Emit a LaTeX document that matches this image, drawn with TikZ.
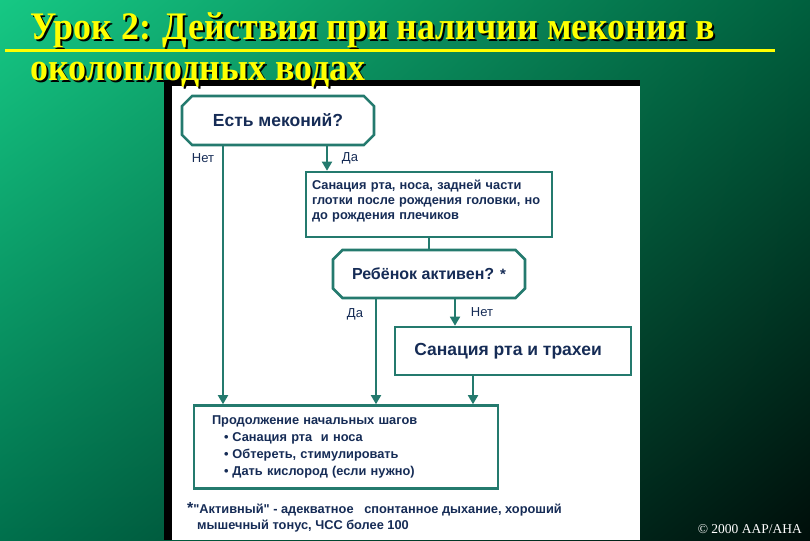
\documentclass[tikz,border=0pt]{standalone}
\usepackage{graphicx}
\usepackage{fontspec}
\setmainfont{Liberation Sans}[Ligatures=TeXOff]
\newfontfamily\titlefont{Liberation Serif}
\usetikzlibrary{shapes.misc,shadings,arrows.meta,positioning}

\definecolor{bgUL}{RGB}{22,200,132}
\definecolor{bgUR}{RGB}{0,96,62}
\definecolor{bgLL}{RGB}{0,112,76}
\definecolor{bgLR}{RGB}{0,14,10}
\definecolor{flowline}{RGB}{36,122,110}
\definecolor{flowtext}{RGB}{22,44,86}
\definecolor{titleyellow}{RGB}{255,255,0}

% narrow title lines
\newcommand{\titleline}[1]{\scalebox{0.92}[1]{#1}}

\begin{document}
\begin{tikzpicture}[
    x=1pt, y=-1pt,
    question/.style={
        chamfered rectangle, chamfered rectangle angle=45,
        chamfered rectangle xsep=11pt,
        draw=flowline, line width=2.6pt, fill=white, inner sep=0pt,
        text=flowtext
    },
    action/.style={
        rectangle, draw=flowline, line width=2.6pt, fill=white,
        inner sep=0pt, text=flowtext
    },
    arrow style/.style={
        draw=flowline, line width=1.8pt,
        -{Triangle[width=10pt,length=9pt]}
    },
    branch label/.style={
        text=flowtext, font=\fontsize{13}{15}\selectfont
    },
    title text/.style={
        anchor=base west, inner sep=0pt,
        font=\titlefont\bfseries\fontsize{39}{42}\selectfont
    }
]
\useasboundingbox (0,0) rectangle (810,540);

% Background
\shade[upper left=bgUL, upper right=bgUR, lower left=bgLL, lower right=bgLR]
    (0,0) rectangle (810,540);

% Panel with dark frame
\fill[black] (164,80) rectangle (640,540);
\fill[white] (172,86) rectangle (640,540);

% Title
\node[title text, text=black] (title1shadow) at (32,42) {\titleline{Урок 2: Действия при наличии мекония в}};
\node[title text, text=titleyellow] (title1) at (30,40) {\titleline{Урок 2: Действия при наличии мекония в}};
\draw[titleyellow, line width=3pt] (5,51) -- (775,51);
\node[title text, text=black] (title2shadow) at (32,83) {\titleline{околоплодных водах}};
\node[title text, text=titleyellow] (title2) at (30,81) {\titleline{околоплодных водах}};

% Flowchart nodes
\node[question, minimum width=192pt, minimum height=49pt,
      font=\fontsize{17.5}{20}\selectfont\bfseries] (meconium) at (278,120.5) {Есть меконий?};
\node[action, minimum width=246pt, minimum height=65pt, text width=234pt, align=left,
      font=\fontsize{12.8}{15}\selectfont\bfseries] (suction1) at (429,204.5)
    {Санация рта, носа, задней части\\глотки после рождения головки, но\\до рождения плечиков\\[-5pt]\mbox{}};
\node[question, minimum width=192pt, minimum height=48pt,
      font=\fontsize{16}{18}\selectfont\bfseries] (active) at (429,274)
    {Ребёнок активен? {\fontsize{15}{15}\selectfont *}};
\node[action, minimum width=236pt, minimum height=48pt,
      font=\fontsize{17.5}{20}\selectfont\bfseries] (suction2) at (513,351)
    {\hspace*{-10pt}Санация рта и трахеи};
\node[action, minimum width=304pt, minimum height=83pt, text width=268pt, align=left,
      font=\fontsize{12.8}{17}\selectfont\bfseries] (steps) at (346,447)
    {Продолжение начальных шагов\\
     \hspace*{12pt}\textbullet\hspace{4pt}Санация рта \ и носа\\
     \hspace*{12pt}\textbullet\hspace{4pt}Обтереть, стимулировать\\
     \hspace*{12pt}\textbullet\hspace{4pt}Дать кислород (если нужно)};

% Branch positions
\coordinate (noX) at (223,0);
\coordinate (yesX) at (327,0);
\coordinate (activeX) at (376,0);
\coordinate (notactiveX) at (455,0);
\coordinate (tracheaX) at (473,0);

% Connectors
\draw[arrow style] (meconium.south -| noX) -- (steps.north -| noX);
\draw[arrow style] (meconium.south -| yesX) -- (suction1.north -| yesX);
\draw[draw=flowline, line width=1.8pt] (suction1.south) -- (active.north);
\draw[arrow style] (active.south -| activeX) -- (steps.north -| activeX);
\draw[arrow style] (active.south -| notactiveX) -- (suction2.north -| notactiveX);
\draw[arrow style] (suction2.south -| tracheaX) -- (steps.north -| tracheaX);

% Branch labels
\node[branch label] (nolabel) at (203,158) {Нет};
\node[branch label] (yeslabel) at (350,158) {Да};
\node[branch label] (activelabel) at (355,314) {Да};
\node[branch label] (notactivelabel) at (482,312) {Нет};

% Footnote
\node[anchor=north west, align=left, inner sep=0pt, text=flowtext,
      font=\fontsize{12.8}{16}\selectfont\bfseries] (note) at (187,502)
    {{\fontsize{16}{14}\selectfont *}"Активный" - адекватное \ \ спонтанное дыхание, хороший\\
     \hspace*{10pt}мышечный тонус, ЧСС более 100};

% Copyright
\node[anchor=base east, inner sep=0pt, text=white,
      font=\titlefont\fontsize{13.5}{15}\selectfont] (copyright) at (802,533) {© 2000 AAP/AHA};

\end{tikzpicture}
\end{document}
